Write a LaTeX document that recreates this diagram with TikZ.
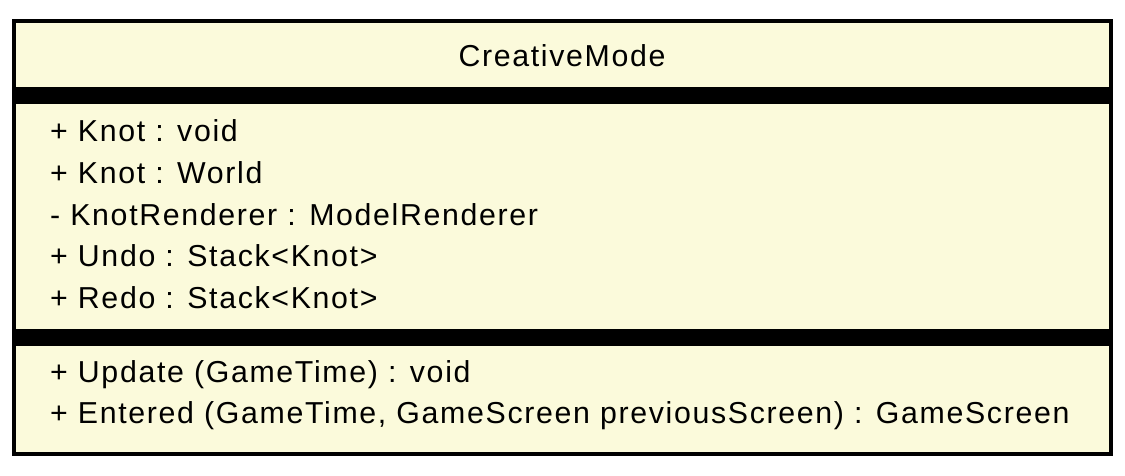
\documentclass[tikz,border=0pt]{standalone}
\usepackage{fontspec}
\setmainfont{Liberation Sans}[LetterSpace=5.5]
\definecolor{classfill}{RGB}{251,250,219}
\begin{document}
\begin{tikzpicture}[x=1pt,y=-1pt,
  member/.style={anchor=base west,inner sep=0pt,font=\fontsize{30.3}{36}\selectfont},
  title/.style={anchor=base,inner sep=0pt,font=\fontsize{30.3}{36}\selectfont},
  bar/.style={fill=black,draw=none}]
\useasboundingbox (0,0) rectangle (1125,475);
% class body
\coordinate (nw) at (14.2,20.8);
\coordinate (se) at (1110.7,453.7);
\fill[classfill] (nw) rectangle (se);
% compartment separators
\fill[bar] (14.2,87.3) rectangle (1110.7,104.3);
\fill[bar] (14.2,329) rectangle (1110.7,346);
\draw[line width=3.7pt] (nw) rectangle (se);
% class name
\node[title] (name) at (562,66.7) {CreativeMode};
% attributes
\node[member] (a1) at (50,141.7) {+ Knot : void};
\node[member] (a2) at (50,183.3) {+ Knot : World};
\node[member] (a3) at (50,225) {- KnotRenderer : ModelRenderer};
\node[member] (a4) at (50,266.7) {+ Undo : Stack<Knot>};
\node[member] (a5) at (50,308.3) {+ Redo : Stack<Knot>};
% operations
\node[member] (m1) at (50,382) {+ Update (GameTime) : void};
\node[member] (m2) at (50,423) {+ Entered (GameTime, GameScreen previousScreen) : GameScreen};
\end{tikzpicture}
\end{document}
